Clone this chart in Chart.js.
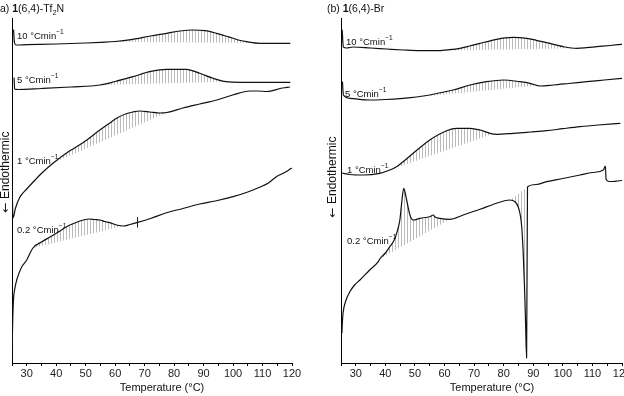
<!DOCTYPE html>
<html><head><meta charset="utf-8">
<script src="https://cdn.jsdelivr.net/npm/chart.js@4.4.1/dist/chart.umd.min.js"></script>
<style>
html,body{margin:0;padding:0;background:#fff;overflow:hidden}
#wrap{position:relative;width:624px;height:396px;background:#fff}
.pan{position:absolute;top:0}
</style></head><body>
<div id="wrap">
<div class="pan" style="left:0;width:320px;height:396px"><canvas id="ca" width="320" height="396"></canvas></div>
<div class="pan" style="left:320px;width:304px;height:396px"><canvas id="cb" width="304" height="396"></canvas></div>
</div>
<script>
const FONT = '"Liberation Sans", Arial, Helvetica, sans-serif';

// ---- axis ----
const tempMin = 25, tempMax = 120, tempStep = 5;
const tickLabels = [30, 40, 50, 60, 70, 80, 90, 100, 110, 120];
const yMin = 0, yMax = 345; // arbitrary heat-flow units (offset traces)

// ---- panel (a) 1(6,4)-Tf2N : [temperature, signal] ----
const a10 = [[25.55,333],[25.8,321],[26.4,318],[30,318.3],[40,319],[50,320],[55,320.7],[60,321.5],[66,323.7],[72,327],[77.5,329.7],[82,332],[86.3,333],[90.5,332.3],[94.4,329.7],[97.5,327],[100,324.7],[102.5,322.5],[104.6,321.3],[109,319.7],[114,319.7],[119.3,319.7]];
const a10Base = [[58.2,321.2],[107.6,320]];
const a5 = [[25.7,285],[25.9,274],[27,273.5],[35,274.5],[45,276],[54.8,278],[60,281.5],[66,286.3],[71.7,291.3],[77.5,293.7],[84.2,293.7],[88.7,289.7],[93.2,284.7],[97.7,281.3],[102.3,280.7],[110,280.7],[119.3,280.7]];
const a5Base = [[54.8,278],[97.7,281.3]];
const a1 = [[25.05,176],[25.35,145],[26.2,155],[27.7,166],[30,174],[32.2,181],[35.5,191],[39,200],[43.5,210],[50.4,223],[54.8,233],[57.7,239],[60.6,245],[63.5,249],[66,251],[68.4,252],[71.8,251],[75.2,250],[77.5,250.5],[83,255],[88.7,259],[94.5,263],[99.9,268],[105.7,272],[108.5,272],[111.4,271.5],[116.8,275],[119.2,276]];
const a1Base = [[39,200],[77.5,250.5]];
const a02 = [[25.0,3],[25.15,30],[25.44,60],[26.0,75],[26.6,83],[27.4,90],[28.3,96],[30,103],[32.1,115],[35,121],[37.9,126],[40.7,131],[43.5,136.3],[46.3,140],[49.2,143],[51.4,144],[53,143.5],[54.8,143],[56.5,141.5],[58.2,140.3],[60.5,138],[62.7,137],[65,138.5],[67.3,140.3],[72,144.5],[77.4,150.3],[83,154.5],[88.7,159],[94,162],[100,166.3],[105,171],[109,175.7],[112,180],[114.7,186.3],[117.5,190.5],[119.8,194.7]];
const a02Base = [[32.1,115],[62.7,137]];
const a02Mark = [[67.6,135.7],[67.6,145.7]];

// ---- panel (b) 1(6,4)-Br ----
const b10 = [[25.4,333],[25.8,316],[26.9,315],[29.1,316],[35,315],[40.4,314],[46,313],[51.7,312.3],[57.3,312.3],[61,313.2],[65.2,314.7],[68.5,317],[72,319.7],[77.6,323.7],[80.5,325.2],[83.2,325.7],[87.8,324.7],[91,322.7],[94.5,320.3],[100.2,316.3],[104.7,314.7],[108,315.3],[111.5,316.3],[116,317.5],[119.9,318.7]];
const b10Base = [[56.2,312.3],[103.6,314.8]];
const b5 = [[25.5,281],[25.8,268],[28,264.7],[34.7,263],[40,263.5],[46,264.7],[50.5,266],[55,268],[59,270.5],[62.9,273],[68.6,278],[74.2,281.3],[79.9,283],[85.5,281.3],[88.9,279.7],[92.3,277],[96.8,278],[102,279.5],[108.1,281.3],[114,283],[119.9,284.7]];
const b5Base = [[49.4,265.5],[91.2,277.5]];
const b1 = [[25.3,190],[28,188.5],[32.5,188],[38.1,189.7],[41.5,193],[43.8,196.3],[49.4,209.7],[55,223],[60.7,232.3],[64.1,234.7],[68.6,234.7],[72,233],[75.4,229.7],[77.6,228.7],[83.2,229.7],[89,231],[94.5,232.3],[100,234.3],[105.8,236.3],[112,238],[119.3,239.7]];
const b1Base = [[41.5,193],[76.5,229.2]];
const b02 = [[25.3,30],[25.45,40],[25.7,50],[26.6,62],[28,71.3],[29.6,78],[31.4,83],[34.7,93],[37.6,101.3],[38.1,104],[40,110],[41.5,116.3],[43,123],[43.8,129.7],[44.9,143],[45.5,159.7],[46.2,174.7],[46.7,170],[47.2,163],[48.3,148],[49.4,143],[51.7,144.7],[55,146.3],[56.2,148],[56.8,146],[58.4,144.7],[61.8,143.7],[66.3,148],[72,153.7],[77.6,159.7],[82.1,163],[83.8,161.3],[84.9,156.3],[85.6,148],[86.1,136.3],[86.6,110],[87.0,80],[87.4,40],[87.75,5],[88.05,176],[91,178.5],[94.5,181.3],[100,184.5],[105.8,188],[110,190.5],[113.7,193],[114.4,197],[114.6,184],[115.5,181.5],[117.1,181.5],[118.5,182],[119.9,182.5]];
const b02Base1 = [[38.1,104],[61.8,143.7]];
const b02Base2 = [[82.1,163],[88.05,176]];

function makePattern(canvas) {
  const c = document.createElement('canvas');
  c.width = 3; c.height = 4;
  const g = c.getContext('2d');
  g.fillStyle = 'rgba(120,120,120,0.5)';
  g.fillRect(0, 0, 1, 4);
  return canvas.getContext('2d').createPattern(c, 'repeat');
}

const toXY = arr => arr.map(([x, y]) => ({x, y}));

function curveSets(curve, bases, pattern) {
  const sets = [{data: toXY(curve), borderColor: '#111', borderWidth: 1.2, pointRadius: 0,
    cubicInterpolationMode: 'monotone', fill: false}];
  for (const b of bases) {
    const x0 = b[0][0], x1 = b[1][0];
    const sub = [b[0], ...curve.filter(([x]) => x > x0 && x < x1), b[1]];
    sets.push({data: toXY(sub), borderColor: 'rgba(0,0,0,0)', borderWidth: 0, pointRadius: 0,
      cubicInterpolationMode: 'monotone', backgroundColor: pattern, fill: '+1'});
    sets.push({data: toXY(b), borderColor: 'rgba(0,0,0,0)', borderWidth: 0, pointRadius: 0, fill: false});
  }
  return sets;
}

function scales(yWidth) {
  return {
    x: {type: 'linear', min: tempMin, max: tempMax,
      afterFit(s) { s.height = 33; s.paddingLeft = 0; s.paddingRight = 0; },
      ticks: {stepSize: tempStep, autoSkip: false, maxRotation: 0, minRotation: 0, padding: 1,
        color: '#222', font: {family: FONT, size: 11},
        callback: v => tickLabels.includes(v) ? String(v) : ''},
      grid: {display: true, drawOnChartArea: false, drawTicks: true, tickLength: 3, color: '#000', lineWidth: 1},
      border: {display: true, color: '#000', width: 1}
    },
    y: {type: 'linear', min: yMin, max: yMax,
      afterFit(s) { s.width = yWidth; s.paddingTop = 0; s.paddingBottom = 0; },
      ticks: {display: false}, grid: {display: false},
      border: {display: true, color: '#000', width: 1}
    }
  };
}

function rich(ctx, segs, x, y, size) {
  let cx = x;
  for (const s of segs) {
    const sz = s.sub || s.sup ? size * 0.7 : size;
    ctx.font = (s.bold ? 'bold ' : '') + sz + 'px ' + (s.fam || FONT);
    const dy = s.sub ? size * 0.25 : (s.sup ? -size * 0.38 : 0);
    ctx.fillText(s.t, cx, y + dy);
    cx += ctx.measureText(s.t).width;
  }
  return cx - x;
}

function richWidth(ctx, segs, size) {
  let w = 0;
  for (const s of segs) {
    const sz = s.sub || s.sup ? size * 0.7 : size;
    ctx.font = (s.bold ? 'bold ' : '') + sz + 'px ' + (s.fam || FONT);
    w += ctx.measureText(s.t).width;
  }
  return w;
}

const textLayer = {
  id: 'textLayer',
  afterDraw(chart, args, o) {
    const ctx = chart.ctx;
    ctx.save();
    ctx.fillStyle = '#111';
    ctx.textBaseline = 'alphabetic';
    ctx.textAlign = 'left';
    ctx.font = '10.5px ' + FONT;
    const off = o.titleCut ? -ctx.measureText('(').width : 0;
    rich(ctx, o.title, o.titleX + off, 12, 10.5);
    // curve labels
    ctx.textBaseline = 'middle';
    for (const l of o.labels) {
      rich(ctx, [{t: l.t + ' °Cmin'}, {t: '−1', sup: true}], l.x, l.y, 9.5);
    }
    // axis titles
    ctx.textBaseline = 'alphabetic';
    ctx.font = '11px ' + FONT;
    ctx.textAlign = 'center';
    ctx.fillText('Temperature (°C)', o.xTitle[0], o.xTitle[1]);
    ctx.textAlign = 'left';
    ctx.textBaseline = 'middle';
    ctx.translate(o.yTitle[0], o.yTitle[1]);
    ctx.rotate(-Math.PI / 2);
    const ySegs = [{t: '←', fam: '"DejaVu Sans", sans-serif'}, {t: ' Endothermic'}];
    const w = richWidth(ctx, ySegs, 12);
    rich(ctx, ySegs, -w / 2, 0, 12);
    ctx.restore();
  }
};

function build(id, sets, yWidth, padRight, textOpts) {
  return new Chart(document.getElementById(id), {
    type: 'line',
    data: {datasets: sets},
    options: {
      responsive: false, animation: false, devicePixelRatio: 1,
      layout: {padding: {left: 0, top: 18, right: padRight, bottom: 0}},
      scales: scales(yWidth),
      plugins: {legend: {display: false}, tooltip: {enabled: false}, textLayer: textOpts},
      elements: {line: {borderCapStyle: 'round', borderJoinStyle: 'round'}}
    },
    plugins: [textLayer]
  });
}

const patA = makePattern(document.getElementById('ca'));
const patB = makePattern(document.getElementById('cb'));

const setsA = [
  ...curveSets(a10, [a10Base], patA),
  ...curveSets(a5, [a5Base], patA),
  ...curveSets(a1, [a1Base], patA),
  ...curveSets(a02, [a02Base], patA),
  {data: toXY(a02Mark), borderColor: '#111', borderWidth: 1, pointRadius: 0, fill: false}
];
const setsB = [
  ...curveSets(b10, [b10Base], patB),
  ...curveSets(b5, [b5Base], patB),
  ...curveSets(b1, [b1Base], patB),
  ...curveSets(b02, [b02Base1, b02Base2], patB)
];

build('ca', setsA, 12, 28, {
  title: [{t: '(a) '}, {t: '1', bold: true}, {t: '(6,4)-Tf'}, {t: '2', sub: true}, {t: 'N'}],
  titleX: 0, titleCut: true,
  labels: [{t: '10', x: 17, y: 36}, {t: '5', x: 17, y: 80}, {t: '1', x: 17, y: 161}, {t: '0.2', x: 17, y: 230}],
  xTitle: [162, 391], yTitle: [6, 172]
});
build('cb', setsB, 21, 2, {
  title: [{t: '(b) '}, {t: '1', bold: true}, {t: '(6,4)-Br'}],
  titleX: 7, titleCut: false,
  labels: [{t: '10', x: 26, y: 42}, {t: '5', x: 25, y: 94}, {t: '1', x: 27, y: 170}, {t: '0.2', x: 27, y: 241}],
  xTitle: [172, 391], yTitle: [13, 177]
});
</script>
</body></html>
